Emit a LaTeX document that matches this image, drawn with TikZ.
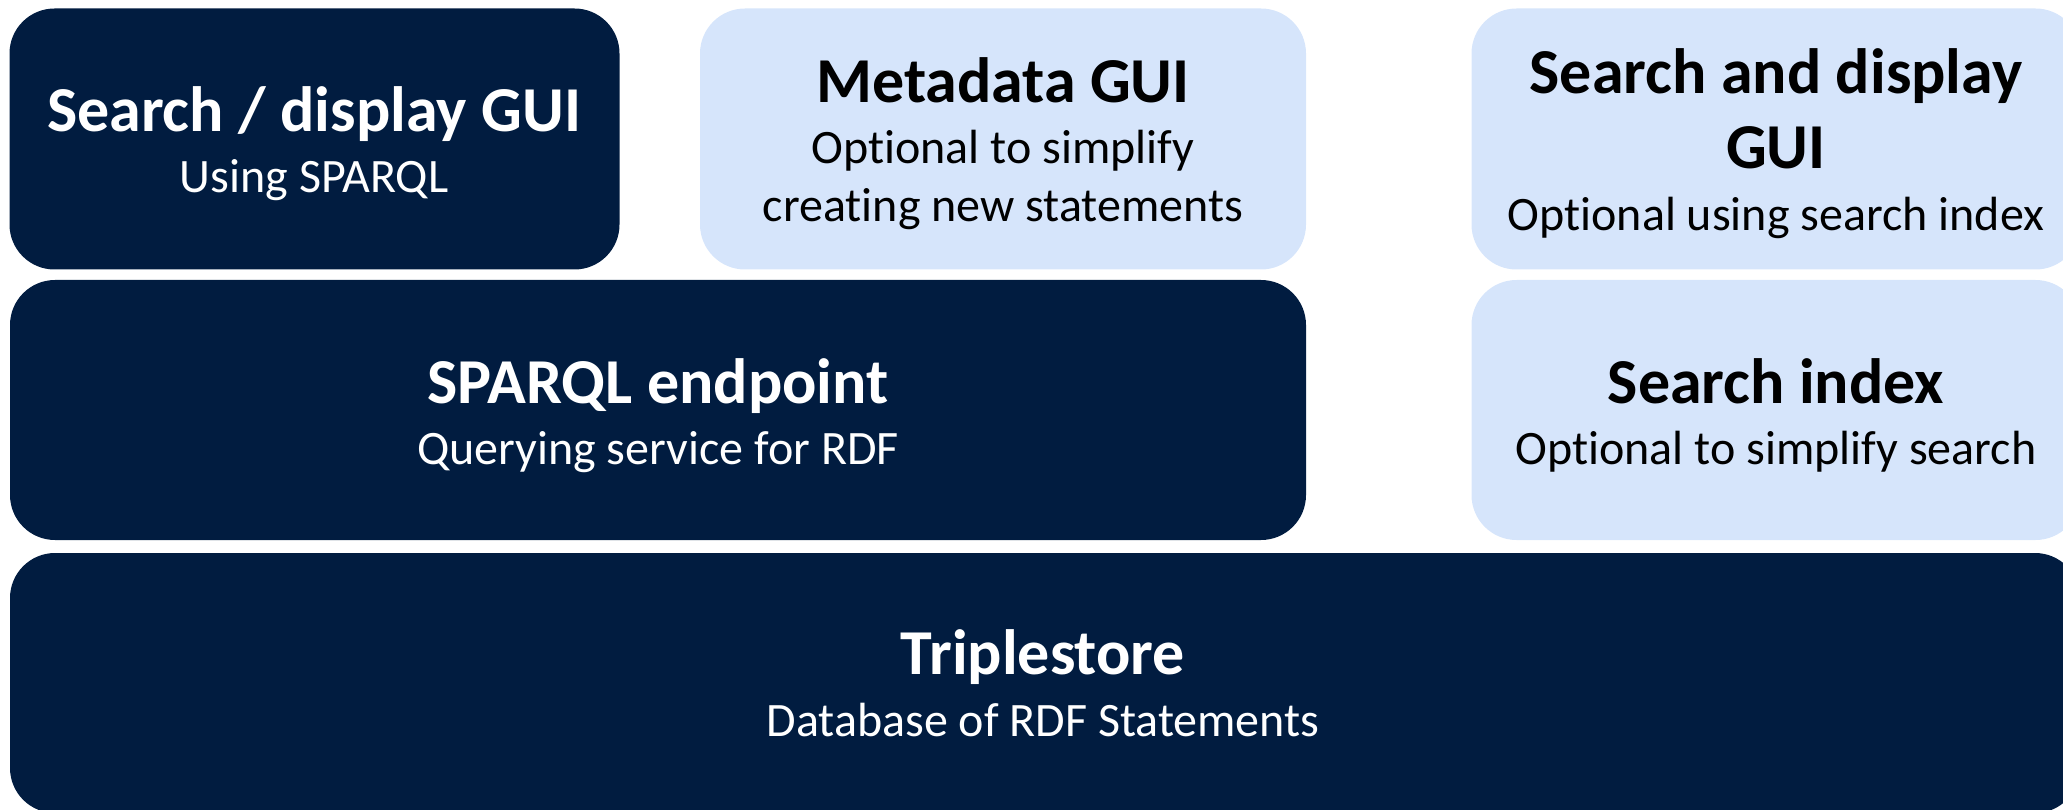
\documentclass[tikz,border=0pt]{standalone}
\usepackage{fontspec}
\setmainfont{Carlito}[Ligatures=NoCommon]
\definecolor{navy}{RGB}{1,28,64}
\definecolor{lightblue}{RGB}{214,229,251}
\tikzset{
  darkbox/.style={fill=navy, draw=none, rounded corners=45pt, inner sep=0pt, outer sep=0pt},
  lightbox/.style={fill=lightblue, draw=none, rounded corners=45pt, inner sep=0pt, outer sep=0pt},
  ttl/.style={anchor=base, inner sep=0pt, font=\fontsize{64}{77}\selectfont\bfseries},
  sub/.style={anchor=base, inner sep=0pt, font=\fontsize{48}{57}\selectfont},
}
\begin{document}
\begin{tikzpicture}[x=1pt,y=-1pt]
\useasboundingbox (0,0) rectangle (2063,810);
% boxes
\node[darkbox, minimum width=610pt, minimum height=261pt] (A) at (314.5,139) {};
\node[lightbox, minimum width=606pt, minimum height=261pt] (B) at (1003,139) {};
\node[lightbox, minimum width=609pt, minimum height=261pt] (C) at (1776,139) {};
\node[darkbox, minimum width=1296pt, minimum height=260pt] (D) at (658,410) {};
\node[lightbox, minimum width=609pt, minimum height=260pt] (E) at (1776,410) {};
\node[darkbox, minimum width=2070pt, minimum height=260pt] (F) at (1045,683) {};
% texts
\node[ttl, text=white] (At) at (314,132) {Search / display GUI};
\node[sub, text=white] (As) at (314,193) {Using SPARQL};
\node[ttl, text=black] (Bt) at (1003,103) {Metadata GUI};
\node[sub, text=black] (Bs1) at (1003,164) {Optional to simplify};
\node[sub, text=black] (Bs2) at (1003,222) {creating new statements};
\node[ttl, text=black] (Ct1) at (1776,94) {Search and display};
\node[ttl, text=black] (Ct2) at (1776,169) {GUI};
\node[sub, text=black] (Cs) at (1776,231) {Optional using search index};
\node[ttl, text=white] (Dt) at (658,403) {SPARQL endpoint};
\node[sub, text=white] (Ds) at (658,464) {Querying service for RDF};
\node[ttl, text=black] (Et) at (1776,403) {Search index};
\node[sub, text=black] (Es) at (1776,464) {Optional to simplify search};
\node[ttl, text=white] (Ft) at (1043,674) {Triplestore};
\node[sub, text=white] (Fs) at (1043,736) {Database of RDF Statements};
\end{tikzpicture}
\end{document}
